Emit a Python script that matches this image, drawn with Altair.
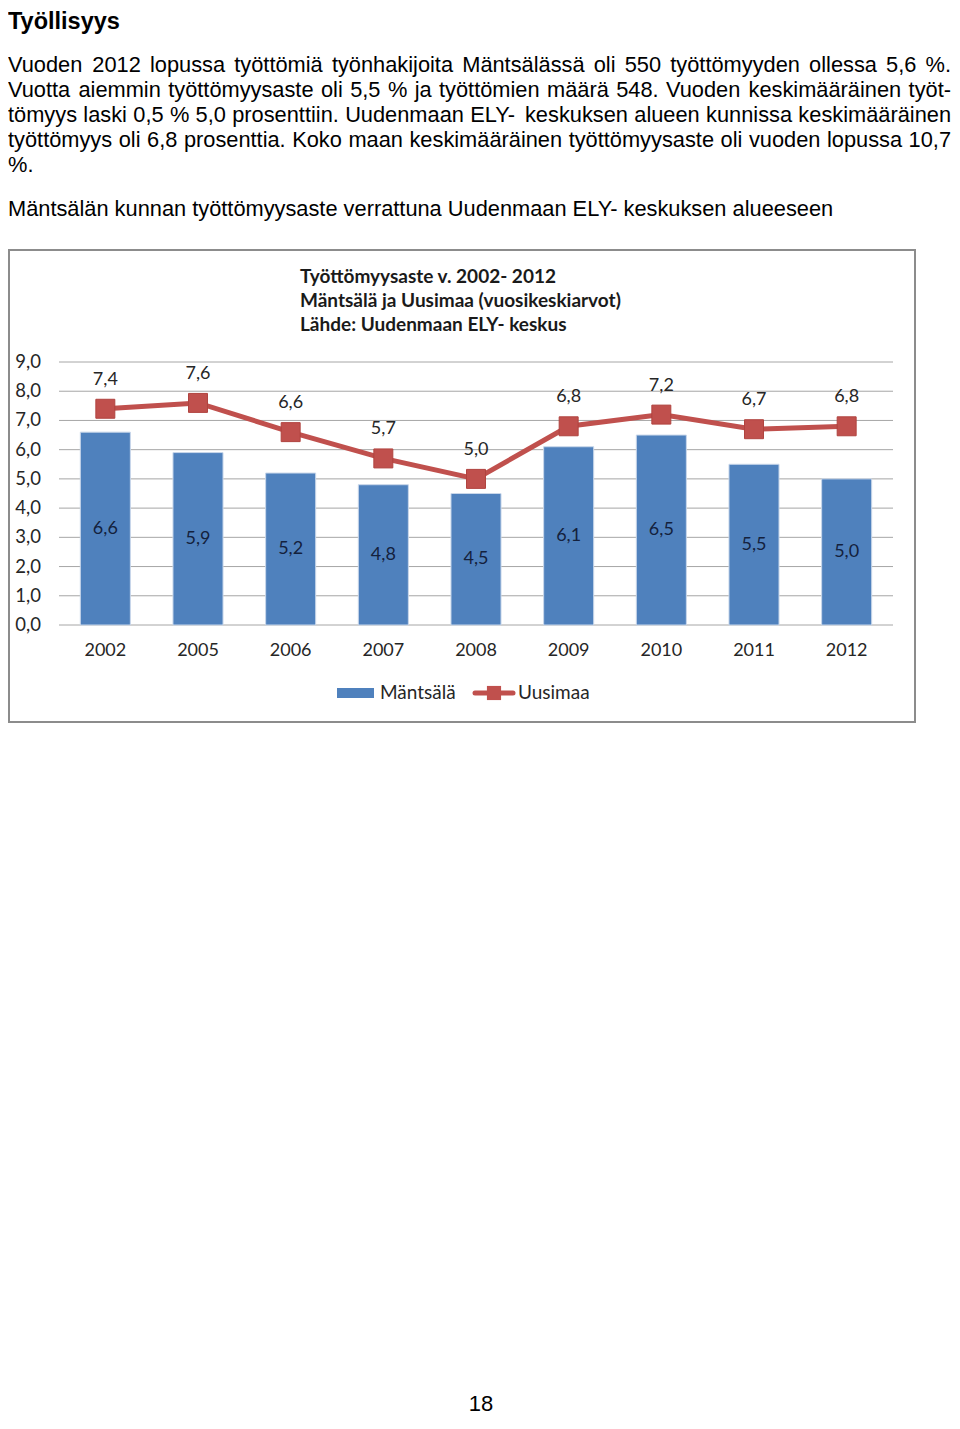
import altair as alt
import pandas as pd

# ---------------- data ----------------
years = ["2002", "2005", "2006", "2007", "2008", "2009", "2010", "2011", "2012"]
mantsala = [6.6, 5.9, 5.2, 4.8, 4.5, 6.1, 6.5, 5.5, 5.0]
uusimaa = [7.4, 7.6, 6.6, 5.7, 5.0, 6.8, 7.2, 6.7, 6.8]
y_ticks = [0, 1, 2, 3, 4, 5, 6, 7, 8, 9]

heading = "Työllisyys"
body_lines = [
    "Vuoden 2012 lopussa työttömiä työnhakijoita Mäntsälässä oli 550 työttömyyden ollessa 5,6 %.",
    "Vuotta aiemmin työttömyysaste oli 5,5 % ja työttömien määrä 548. Vuoden keskimääräinen työt-",
    "tömyys laski 0,5 % 5,0 prosenttiin. Uudenmaan ELY- keskuksen alueen kunnissa keskimääräinen",
    "työttömyys oli 6,8 prosenttia. Koko maan keskimääräinen työttömyysaste oli vuoden lopussa 10,7",
    "%.",
]
justified = [True, True, True, True, False]
caption = "Mäntsälän kunnan työttömyysaste verrattuna Uudenmaan ELY- keskuksen alueeseen"
chart_title = [
    "Työttömyysaste v. 2002- 2012",
    "Mäntsälä ja Uusimaa (vuosikeskiarvot)",
    "Lähde: Uudenmaan ELY- keskus",
]
series_names = ["Mäntsälä", "Uusimaa"]
page_number = "18"


def fi(v):
    return f"{v:.1f}".replace(".", ",")


df = pd.DataFrame({
    "year": years,
    "mantsala": mantsala,
    "uusimaa": uusimaa,
    "m_label": [fi(v) for v in mantsala],
    "u_label": [fi(v) for v in uusimaa],
})
ticks = pd.DataFrame({"v": y_ticks, "label": [fi(v) for v in y_ticks]})
one = pd.DataFrame({"a": [0]})

BLUE = "#4F81BD"
RED = "#C0504D"
BODY_FONT = "Liberation Sans"
BODY_SIZE = 21.8
CH_FONT = "Lato"
CH_SIZE = 18

# Arial / Liberation Sans advance widths (per 1000 em) for text justification
ADV = {c: 556 for c in "abdeghnopqu0123456789äö"}
ADV.update({"c": 500, "k": 500, "s": 500, "v": 500, "x": 500, "y": 500, "z": 500,
            "f": 278, "t": 278, "i": 222, "j": 222, "l": 222, "m": 833, "r": 333, "w": 722,
            " ": 278, ",": 278, ".": 278, "-": 333, "%": 889,
            "V": 667, "M": 833, "E": 667, "L": 556, "Y": 667, "U": 722, "K": 667})


def text_width(s, size):
    return sum(ADV.get(ch, 556) for ch in s) * size / 1000.0


x_scale = alt.Scale(domain=years, range=[51, 885], paddingInner=0.46, paddingOuter=0.23)
y_scale = alt.Scale(domain=[0, 9], range=[617, 354], nice=False, zero=True)
X = alt.X("year:N", scale=x_scale, axis=None, sort=years)

layers = []


def body_text(s, x, y, size=BODY_SIZE, weight="normal", align="left"):
    return (alt.Chart(one).mark_text(align=align, baseline="alphabetic", font=BODY_FONT,
                                     fontSize=size, fontWeight=weight, color="#000")
            .encode(x=alt.value(x), y=alt.value(y), text=alt.value(s)))


# page text
layers.append(body_text(heading, 0, 21, size=23.5, weight="bold"))
LINE_RIGHT = 943
for i, (line, just) in enumerate(zip(body_lines, justified)):
    y = 64 + 25 * i
    if not just:
        layers.append(body_text(line, 0, y))
        continue
    words = line.split(" ")
    widths = [text_width(w, BODY_SIZE) for w in words]
    gap = (LINE_RIGHT - sum(widths)) / (len(words) - 1)
    x = 0.0
    for w, wd in zip(words, widths):
        layers.append(body_text(w, round(x, 2), y))
        x += wd + gap
layers.append(body_text(caption, 0, 208))
layers.append(body_text(page_number, 473, 1403, size=22, align="center"))

# chart frame
layers.append(alt.Chart(one).mark_rect(fill="#ffffff", stroke="#8c8c8c", strokeWidth=2)
              .encode(x=alt.value(1), x2=alt.value(907), y=alt.value(242), y2=alt.value(714)))

# chart title
for i, t in enumerate(chart_title):
    layers.append(alt.Chart(one).mark_text(align="left", baseline="middle", font=CH_FONT,
                                           fontSize=19, fontWeight="bold", color="#1a1a1a")
                  .encode(x=alt.value(292), y=alt.value(269 + 24 * i), text=alt.value(t)))

# gridlines
layers.append(alt.Chart(ticks).mark_rule(color="#a6a6a6", strokeWidth=1)
              .encode(y=alt.Y("v:Q", scale=y_scale, axis=None), x=alt.value(51), x2=alt.value(885)))
# y labels
layers.append(alt.Chart(ticks).mark_text(align="right", baseline="middle", font=CH_FONT,
                                         fontSize=CH_SIZE + 0.5, color="#262626")
              .encode(y=alt.Y("v:Q", scale=y_scale, axis=None), x=alt.value(33), text="label:N"))

# bars
layers.append(alt.Chart(df).mark_bar(color=BLUE, stroke="#c9d7ea", strokeWidth=1)
              .encode(x=X, y=alt.Y("mantsala:Q", scale=y_scale, axis=None)))
# bar labels
layers.append(alt.Chart(df).transform_calculate(half="datum.mantsala / 2")
              .mark_text(align="center", baseline="middle", font=CH_FONT, fontSize=CH_SIZE, color="#14213d")
              .encode(x=X, y=alt.Y("half:Q", scale=y_scale, axis=None), text="m_label:N"))

# line
layers.append(alt.Chart(df).mark_line(color=RED, strokeWidth=5)
              .encode(x=X, y=alt.Y("uusimaa:Q", scale=y_scale, axis=None)))
layers.append(alt.Chart(df).mark_square(size=360, color=RED, opacity=1, stroke="#b0433f", strokeWidth=1)
              .encode(x=X, y=alt.Y("uusimaa:Q", scale=y_scale, axis=None)))
layers.append(alt.Chart(df).mark_text(align="center", baseline="middle", font=CH_FONT, fontSize=CH_SIZE,
                                      color="#262626", dy=-29)
              .encode(x=X, y=alt.Y("uusimaa:Q", scale=y_scale, axis=None), text="u_label:N"))

# x labels
layers.append(alt.Chart(df).mark_text(align="center", baseline="middle", font=CH_FONT, fontSize=CH_SIZE,
                                      color="#262626")
              .encode(x=X, y=alt.value(643), text="year:N"))

# legend
layers.append(alt.Chart(one).mark_rect(color=BLUE)
              .encode(x=alt.value(329), x2=alt.value(366), y=alt.value(680), y2=alt.value(690)))
layers.append(alt.Chart(one).mark_text(align="left", baseline="middle", font=CH_FONT, fontSize=19,
                                       color="#262626")
              .encode(x=alt.value(372), y=alt.value(685), text=alt.value(series_names[0])))
layers.append(alt.Chart(one).mark_rule(color=RED, strokeWidth=5, strokeCap="round")
              .encode(x=alt.value(467), x2=alt.value(505), y=alt.value(685)))
layers.append(alt.Chart(one).mark_square(size=200, color=RED, opacity=1)
              .encode(x=alt.value(486), y=alt.value(685)))
layers.append(alt.Chart(one).mark_text(align="left", baseline="middle", font=CH_FONT, fontSize=19,
                                       color="#262626")
              .encode(x=alt.value(510), y=alt.value(685), text=alt.value(series_names[1])))

chart = alt.layer(*layers).properties(
    width=944, height=1409, padding=0, background="#ffffff",
    autosize=alt.AutoSizeParams(type="none")
).configure_view(strokeWidth=0)

chart.save("out.html", embed_options={"renderer": "svg", "actions": False})
